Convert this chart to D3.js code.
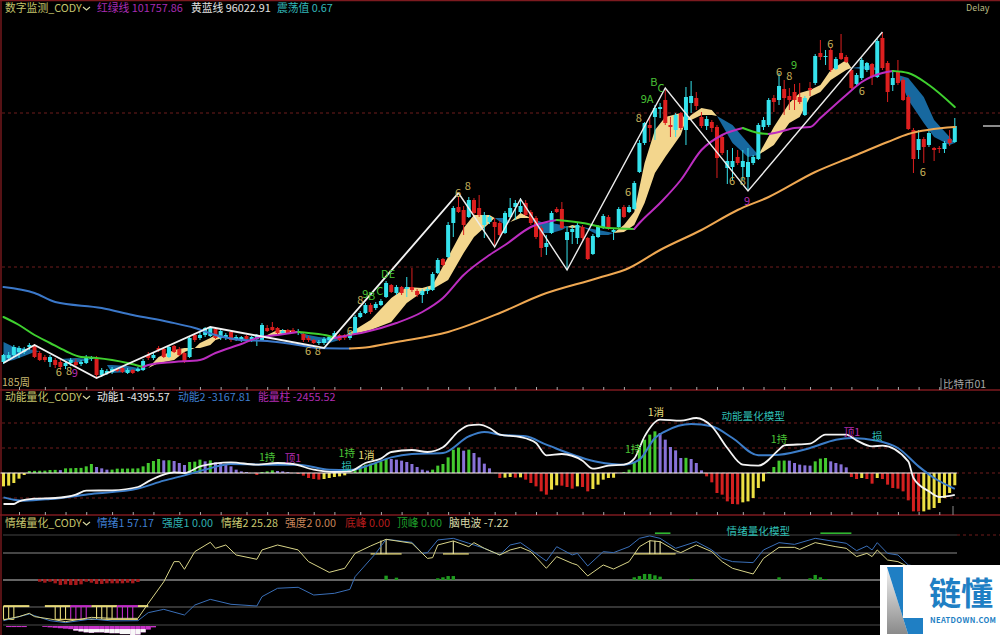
<!DOCTYPE html>
<html lang="zh">
<head>
<meta charset="utf-8">
<title>数字监测_CODY</title>
<script src="https://cdn.jsdelivr.net/npm/d3@7"></script>
<style>
  html, body { margin: 0; padding: 0; background: #000; }
  svg { display: block; }
  text { font-family: "Noto Sans CJK SC", "Noto Sans", sans-serif; }
</style>
</head>
<body>
<svg id="chart" width="1000" height="635"></svg>
<script>
// Weekly candles, in chart levels (see levelToPrice).
const candleOpen = [
  28,32,35,38,38,43,44,37,33,28, 30,28,24,27,28,26,27,31,32,15,
  17,18,21,22,17,20,19,20,35,32, 42,41,33,44,41,37,33,55,52,55,
  54,61,52,53,58,51,50,54,50,51, 50,62,63,62,57,60,60,57,56,52,
  50,47,47,50,52,55,55,52,57,73, 77,85,82,85,93,105,97,103,101,103,
  99,95,99,100,117,131,133,167,183,180, 173,190,182,165,168,168,167,157,173,183,
  178,187,178,172,162,143,157,181,181,150, 158,152,163,152,136,153,162,173,158,163,
  183,178,181,218,247,265,273,281,290,265, 260,277,260,287,292,273,264,268,263,253,
  222,223,233,223,213,227,231,263,265,292, 290,301,294,298,293,275,302,307,337,333,
  340,321,337,333,320,306,312,320,326,313, 352,327,305,318,310,293,260,240,251,245,
  242,242,241,251,248];
const candleClose = [
  35,35,43,42,41,45,33,30,30,33, 25,23,27,30,25,28,33,33,15,20,
  19,21,19,18,20,17,21,29,32,35, 40,33,43,38,35,28,52,50,55,62,
  62,52,59,55,50,53,53,51,53,55, 65,59,60,57,59,57,58,59,50,50,
  47,48,51,53,57,50,52,57,73,77, 85,78,86,89,107,98,103,97,103,100,
  95,99,101,116,130,125,165,182,178,165, 190,177,175,175,173,163,155,177,182,187,
  184,175,167,153,142,147,177,178,162,158, 161,165,152,131,154,163,174,161,160,181,
  173,183,207,247,267,262,282,283,267,263, 275,262,293,294,284,264,271,262,232,237,
  229,229,227,229,228,233,265,270,290,288, 304,292,290,290,288,292,300,334,333,334,
  320,331,331,328,302,315,330,327,313,349, 322,298,312,307,290,261,231,251,243,257,
  240,241,247,247,264];
const candleHigh = [
  36,38,45,44,43,47,46,39,35,35, 32,30,29,32,31,30,35,34,34,22,
  21,23,22,23,22,21,23,31,38,37, 44,43,45,45,43,38,54,57,58,63,
  64,62,61,57,59,55,54,55,54,56, 67,65,68,63,61,61,62,61,57,54,
  51,50,53,55,59,56,56,59,75,79, 87,87,88,91,109,106,105,104,113,122,
  101,101,103,118,132,132,168,184,193,184, 193,192,195,178,175,172,169,179,192,190,
  192,190,180,174,164,155,179,183,188,164, 164,167,165,153,156,165,176,175,162,183,
  185,185,209,250,268,273,285,287,300,273, 277,278,303,309,298,278,274,270,265,255,
  240,242,240,240,242,235,267,273,292,295, 317,310,302,306,307,294,308,336,350,340,
  342,333,356,335,322,317,332,328,327,351, 358,329,320,330,312,295,262,260,253,259,
  243,244,249,260,272];
const candleLow = [
  26,30,33,32,36,40,32,29,28,23, 22,20,21,24,23,24,26,29,13,13,
  15,16,18,17,16,16,18,19,30,30, 38,32,32,37,34,27,32,48,50,53,
  53,51,50,50,48,49,48,49,48,44, 49,58,59,56,55,56,57,55,48,48,
  46,45,45,48,51,49,50,50,56,72, 76,76,80,84,92,97,95,95,93,98,
  93,87,96,99,116,124,132,153,177,155, 172,175,173,152,166,145,154,156,172,170,
  177,174,165,151,133,135,156,177,161,120, 146,146,150,130,135,152,161,160,150,162,
  172,177,180,217,245,248,250,272,265,253, 253,260,245,277,280,262,260,258,212,235,
  206,210,225,210,200,225,230,260,263,278, 285,275,280,280,286,274,294,305,330,325,
  318,320,330,327,301,305,310,318,305,312, 320,288,299,305,289,260,217,231,227,243,
  229,237,237,244,247];

// Conversion between chart levels and quoted prices.
const pricePerLevel = 286.7475;
const priceAtLevelZero = 20608.32;
const levelToPrice = level => priceAtLevelZero + pricePerLevel * level;

// Yellow-blue long average.
const longWeeks  = [0,6,10,19,25,32,37,41,46,51,57,61,67,70,76,86,96,104,115,121,127,135,142,148,157,164,171,175,184];
const longLevels = [103,97,88,82,75,68,62,55,50,49,45,42,41.5,42.5,48,58,77,95,112,122,140,160,180,193,218,233,248,256,263];

// Red-green trend line.
const trendWeeks  = [0,3,6,9,12,15,18,21,24,27,28,33,38,41,46,49,53,57,59,63,64,67,70,76,81,85,89,94,97,102,107,112,117,122,123,127,131,135,139,143,146,148,150,153,156,158,163,166,170,172,175,179,184];
const trendLevels = [73,65,55,47,39,33,32,30,27,23,25,28,30,37,46,52,55,58,57,54,52,55,58,67,78,92,115,135,145,163,170,167,162,161,167,187,210,240,255,262,257,256,258,262,263,272,295,308,317,319,317,305,283];

// Fast and slow edges of the filled ribbon.
const ribbonWeeks = [0,2,6,7,11,14,17,20,21,24,27,28,30,33,35,37,38,40,41,43,46,48,51,53,55,57,59,61,63,65,66,71,75,78,81,83,86,89,91,94,95,97,98,100,102,104,106,108,109,110,112,115,117,118,120,122,124,126,128,131,132,133,135,137,138,141,144,146,149,152,154,156,158,160,163,164,168,169,173,175,178,180,183,184];
const ribbonFast  = [28,30,38,38.5,31,27,31,25,17,18,20,22,33,40,42,42,47,52,55,53,49,51,55,60,60,58,50,47,47,50,54,70,92,103,102,105,133,162,175,175,172,165,168,177,172,157,157,160,163,165,163,155,155,157,165,178,227,260,273,277,270,275,282,280,274,247,233,235,263,287,297,300,305,320,330,322,320,320,315,290,267,253,245,247];
const ribbonSlow  = [48,43,40,38.5,31,32,31,25,25,24,21,22,27,30,38,42,42,45,50,53,52,51,55,55,57,58,55,53,52,52,54,60,68,87,98,101,110,137,153,167,172,172,168,172,172,168,167,165,163,162,163,160,158,157,158,165,187,217,233,255,270,270,275,275,274,265,247,235,245,267,273,293,298,310,320,322,325,320,315,312,293,270,253,247];

// Swing line joining the turning points.
const swingWeeks  = [0,6,18,40,62,88,95,100,109,128,144,170];
const swingLevels = [27,45,12,63,42,197,143,191,120,302,199,358];

// Count marks written on the price pane.
const countText  = ["6","8","9","6","8","6","8","9","B","C","DE","6","8","6","8","9A","B","C","6","8","9","6","8","9","6","6","6"];
const countWeek  = [10.7,12.7,13.8,58.9,60.8,67,69,70,71.2,72.8,74.4,87.9,89.8,120.8,122.9,124.5,125.8,127.2,140.9,143,143.8,150,152,152.9,159.9,166,177.8];
const countLevel = [17,18,16,38,38,58,89,95,93,98,115,196,203,197,271,290,307,301,208,208,188,317,313,324,345,298,217];
const countKind  = ["t","t","m","t","t","t","t","g","g","g","g","t","t","t","t","g","g","g","t","t","m","t","t","g","t","t","t"];

// Month ticks along the pane separators.
const monthTicks = [3,8,12,16,21,25,29,34,38,42,47,51,55,60,64,69,73,77,82,86,90,95,99,103,107,112,116,120,125,129,134,138,143,147,151,156,160,164,169,173,177,181];

// Momentum histogram.
const energyBars = [
  -2670,-2530,-2000,-1130,-400,400,430,450,470,600, 620,580,930,950,1000,1020,1330,1800,1200,930,
  670,680,870,880,890,900,930,1330,2000,2400, 2800,2530,2550,2400,2000,1600,2200,2270,2670,2330,
  2530,2130,2000,1670,1330,670,330,200,0,-400, 200,330,530,400,330,200,0,-200,-530,-1000,
  -1200,-1330,-1200,-1000,-800,-670,-470,130,670,1330, 1670,1870,2000,2330,2830,2800,2670,2470,2200,1800,
  1200,670,470,670,1470,1800,3130,4670,5070,4470, 4670,4000,3130,1870,930,0,-1000,-930,-800,-930,
  -870,-1330,-2000,-2670,-3670,-4330,-3330,-2470,-2530,-2800, -3130,-2670,-2800,-3670,-3200,-2330,-1330,-1000,-950,0,
  200,670,2000,5000,6670,7670,8330,8000,6670,5200, 4530,3000,3030,2800,2000,530,-670,-1870,-4000,-4330,
  -5670,-6200,-6270,-5870,-5670,-5000,-3000,-1670,200,1200, 2470,2490,2470,2000,1670,1530,1470,2330,2870,3000,
  2330,2000,1730,1130,-800,-1200,-1000,-1200,-2130,-1000, -1200,-2330,-3000,-3130,-3670,-5470,-7670,-7700,-7670,-7330,
  -7000,-6000,-5000,-4000,-2455.52];

// Momentum lines.
const momentum1Weeks  = [0,2,3,6,10,14,16,21,26,28,31,33,35,38,41,44,49,53,56,60,64,67,70,73,75,79,82,85,88,90,92,94,96,100,103,105,108,112,114,117,120,122,124,127,131,134,137,140,143,146,150,151,156,159,163,165,168,170,175,176,179,181,184];
const momentum1Values = [-6200,-6200,-5670,-5130,-5000,-4330,-3530,-3470,-2800,-1670,-330,130,0,1330,1930,2130,1670,2000,1800,670,200,330,2000,2870,4200,4600,4200,5130,8330,9530,9670,9000,7670,7200,6000,3530,3800,2470,870,1470,1670,2870,7330,10670,10470,11000,9330,5000,1670,1470,4670,5530,5870,7670,7670,6530,5330,5470,2330,-1000,-3670,-4800,-4395.57];
const momentum2Weeks  = [0,2,4,9,17,26,31,35,39,44,51,57,63,67,71,75,79,85,90,93,96,101,105,115,120,123,126,128,133,137,141,146,150,156,161,164,169,173,177,180,184];
const momentum2Values = [-4870,-5330,-5530,-5200,-4200,-3130,-1530,-470,670,1800,1670,1670,670,600,1670,3130,3800,4000,7330,8200,7670,7330,5670,2200,1670,2670,7000,8330,9800,9330,7000,3530,3670,5000,6670,7000,6470,5000,1330,-1000,-3167.81];
const momentumGrid = [10000,5000,-5000];

// Signal words on the momentum pane.
const signalText  = ["1持","顶1","1持","损","1消","1持","1消","1持","顶1","损","动能量化模型"];
const signalWeek  = [51,56,66.4,66.4,70.2,121.8,126.2,150,164.1,169,145];
const signalValue = [3000,2800,3800,1200,3400,4600,12000,6600,8000,7200,11200];
const signalKind  = ["g","m","g","c","y","g","y","g","m","c","c"];

// Mood lines.
const mood2Weeks  = [0,1,3,5,6,9,12,17,21,26,28,31,33,34,35,37,40,41,43,45,49,50,53,57,59,63,66,68,71,74,79,82,83,84,87,90,91,93,96,98,100,102,105,107,110,111,113,116,118,121,123,125,127,130,131,134,137,139,141,145,147,150,153,154,157,161,163,165,167,168,169,171,173,175,180,184];
const mood2Values = [5.6,7,9.3,13,9.3,6.7,3.7,8.5,7.4,7.4,24,48,70.4,70.4,61.9,81.5,91.9,85.2,88.9,77.8,73,83.4,88.9,83.4,70.4,58.5,63,79.6,87.8,95.2,90.8,74,74.8,88.9,93.4,87,91.5,85.2,77.8,83.4,86.3,81.5,63,76,68.5,66.7,54.5,66.7,62.2,70.4,87,93.7,92.6,82.6,80.4,88.9,81.5,70.4,63,56.7,74,86.3,86.3,84,91.5,87,85.2,76,79.6,76,83.4,72.2,70.4,64.8,45,25.28];
const mood1Weeks  = [0,5,9,12,17,21,26,28,31,35,37,40,44,49,50,53,57,60,64,67,68,72,74,79,81,82,84,87,90,93,96,98,100,102,105,107,110,111,113,116,118,121,123,125,127,130,134,137,139,141,145,147,150,153,157,163,165,167,168,169,171,173,175,180,184];
const mood1Values = [4.8,12.2,4.8,2.6,6.7,4.5,4.8,13.7,17.4,11.1,22.2,28.5,23,21.1,31.5,40.8,41.9,33.3,35.2,39.6,53.7,79.6,95.2,91.9,79.6,80.4,94.5,96.3,90.8,85.2,77.8,88.9,91.5,83.4,71.1,87,77.8,79.6,65.6,81.5,80.4,87,96.3,99,96.3,85.2,92.6,83.4,74,70.4,69.3,83.4,91.5,89.6,96.3,90.8,82.6,87.8,83.4,91.5,79.6,77.8,66.7,62,57.17];
const moodGrid = [100,80,50,20,0];

// Bottom peaks: hanging blocks on the 50 line.
const troughWeeks  = [7,8,9,10,11,12,13,14,15,16,17,18,19,20,21,22,23,24,25,26];
const troughHeight = [1.9,3,1.9,3.7,5.6,4.8,5.6,5.6,4.8,1.9,3,4.4,4.4,3.7,3.7,3.7,3.7,3,3.7,2.2];
// Top peaks: standing blocks on the 50 line.
const crestWeeks  = [74,76,84,85,86,87,122,123,124,125,126,127,133,150,156,157,158,159];
const crestHeight = [4.8,2.6,1.9,3,4.4,4.4,3,4.4,6.7,6.7,5.2,3.7,1.1,3,1.9,5.6,3,1.1];

// Low-mood combs and their caps.
const capStart = [0,8,13,17,22,26];
const capEnd   = [5,13,17,22,26,28];
const capKind  = ["y","y","m","y","m","y"];
const combWeeks = [0,1,2,10,11,12,13,14,15,16,18,19,20,21,22,23,24,25];
const combKind  = ["y","y","y","y","y","y","m","m","m","m","y","y","y","y","m","m","m","m"];
const combBaseStart = [0,10];
const combBaseEnd   = [2,26];

// High-mood stems and their bases.
const stemWeeks = [73,74,87,125,126,127];
const stemTops  = [94,95.2,93.4,93.7,93.6,93];
const stemBaseStart = [71,85,122];
const stemBaseEnd   = [77,90,130];

// Short alert dashes above the 100 line.
const alertStart = [126,158];
const alertEnd   = [129,164];

// Depth below the zero line.
const dipWeeks  = [1,2,3,4,8,9,10,11,12,13,14,15,16,17,18,19,20,21,22,23,24,25,26,27,28,29];
const dipMagenta = [-1.2,-1.2,-1.2,-1.2,-1,-1.5,-2,-2.5,-3,-3.5,-5,-6,-7,-7.5,-7,-7,-7.5,-8,-8,-9,-9,-10,-9.5,-7,-4,-1.5];
const dipWhiteWeeks = [14,15,16,17,18,19,20,21,22,23,24,25,26,27];

const palette = {
  t: "#c9b45c", g: "#49c236", m: "#b52cb0", y: "#e6dc7a", c: "#2fbfb3"
};
const capColour = { y: "#e6d97a", m: "#c02cc6" };

const svg = d3.select("#chart");
const x = d3.scaleLinear().domain([0, 184]).range([3.5, 954.8]);
const yPrice = d3.scaleLinear().domain([0, 390]).range([390, 0]);
const yMomentum = d3.scaleLinear().domain([-5000, 10000]).range([498, 423]);
const yMood = d3.scaleLinear().domain([0, 100]).range([625, 535]);

const lastOf = a => a[a.length - 1];
const fix2 = v => v.toFixed(2);

// Frame, separators and dashed reference lines
const frame = svg.append("g");
frame.append("rect").attr("width", 1000).attr("height", 635).attr("fill", "#000");
frame.selectAll("line.edge")
  .data([[1, 0, 1, 635], [0, 0.5, 1000, 0.5], [0, 390, 1000, 390], [0, 515, 1000, 515]])
  .join("line")
  .attr("x1", d => d[0]).attr("y1", d => d[1]).attr("x2", d => d[2]).attr("y2", d => d[3])
  .attr("stroke", "#7c1a1f").attr("stroke-width", 1.4);

const dash = (yValue, colour = "#6e1c1c") => frame.append("line")
  .attr("x1", 2).attr("x2", 1000).attr("y1", yValue).attr("y2", yValue)
  .attr("stroke", colour).attr("stroke-dasharray", "3 3");

[277, 123].forEach(level => dash(yPrice(level)));
momentumGrid.forEach(v => dash(yMomentum(v)));
dash(yMomentum(0));
frame.append("line").attr("x1", 957).attr("x2", 1000)
  .attr("y1", yMood(100)).attr("y2", yMood(100))
  .attr("stroke", "#6e1c1c").attr("stroke-dasharray", "3 3");

// Month ticks sit on both separators
[390, 515].forEach(yPos => {
  const axis = d3.axisTop(x).tickValues(monthTicks).tickSize(3).tickFormat("");
  const g = svg.append("g").attr("transform", `translate(0,${yPos})`).call(axis);
  g.select(".domain").remove();
  g.selectAll("line").attr("stroke", "#a8a8a8");
});

// Ribbon between the fast and slow edges, split by which one leads
const ribbonArea = d3.area()
  .x(d => x(d.week)).y0(d => yPrice(d.fast)).y1(d => yPrice(d.slow));
const ribbonRuns = [];
ribbonWeeks.forEach((week, i) => {
  if (i === 0) return;
  const lead = (ribbonFast[i] - ribbonSlow[i]) + (ribbonFast[i - 1] - ribbonSlow[i - 1]);
  if (lead === 0) return;
  const kind = lead > 0 ? "up" : "down";
  const prev = { week: ribbonWeeks[i - 1], fast: ribbonFast[i - 1], slow: ribbonSlow[i - 1] };
  const cur = { week, fast: ribbonFast[i], slow: ribbonSlow[i] };
  const run = ribbonRuns[ribbonRuns.length - 1];
  if (run && run.kind === kind && run.points[run.points.length - 1].week === prev.week) run.points.push(cur);
  else ribbonRuns.push({ kind, points: [prev, cur] });
});
svg.append("g").selectAll("path").data(ribbonRuns).join("path")
  .attr("d", d => ribbonArea(d.points))
  .attr("fill", d => d.kind === "up" ? "#f3d68d" : "#17689f");

// Candles: cyan for a rising week, red for a falling one
const candles = d3.range(candleOpen.length).map(i => ({
  week: i, open: candleOpen[i], close: candleClose[i], high: candleHigh[i], low: candleLow[i]
}));
const candleColour = d => d.close >= d.open ? "#35e2ec" : "#dc1f1f";
const candleG = svg.append("g");
candleG.selectAll("line").data(candles).join("line")
  .attr("x1", d => x(d.week)).attr("x2", d => x(d.week))
  .attr("y1", d => yPrice(d.high)).attr("y2", d => yPrice(d.low))
  .attr("stroke", candleColour).attr("stroke-width", 1);
candleG.selectAll("rect").data(candles).join("rect")
  .attr("x", d => x(d.week) - 2)
  .attr("width", 4)
  .attr("y", d => yPrice(Math.max(d.open, d.close)))
  .attr("height", d => Math.max(1, Math.abs(yPrice(d.open) - yPrice(d.close))))
  .attr("fill", candleColour);

// Lines coloured by direction: each stretch takes the colour of its slope
function slopeRuns(weeks, values) {
  const runs = [];
  weeks.forEach((week, i) => {
    if (i === 0) return;
    const rising = values[i] >= values[i - 1];
    const run = runs[runs.length - 1];
    if (run && run.rising === rising) run.points.push([week, values[i]]);
    else runs.push({ rising, points: [[weeks[i - 1], values[i - 1]], [week, values[i]]] });
  });
  return runs;
}
const priceLine = d3.line().x(d => x(d[0])).y(d => yPrice(d[1]));
const smoothPriceLine = d3.line().x(d => x(d[0])).y(d => yPrice(d[1])).curve(d3.curveMonotoneX);
const drawSlopeLine = (weeks, values, upColour, downColour) =>
  svg.append("g").selectAll("path").data(slopeRuns(weeks, values)).join("path")
    .attr("d", d => smoothPriceLine(d.points))
    .attr("fill", "none")
    .attr("stroke", d => d.rising ? upColour : downColour)
    .attr("stroke-width", 2)
    .attr("stroke-linecap", "round")
    .attr("stroke-linejoin", "round");

drawSlopeLine(longWeeks, longLevels, "#efa852", "#3b78c9");
drawSlopeLine(trendWeeks, trendLevels, "#bc2dc0", "#3fd02f");

// Swing line: heavier through the earlier legs
const swingPoints = swingWeeks.map((w, i) => [w, swingLevels[i]]);
svg.append("path").attr("d", priceLine(swingPoints.slice(0, 6)))
  .attr("fill", "none").attr("stroke", "#f2f2f2").attr("stroke-width", 1.9);
svg.append("path").attr("d", priceLine(swingPoints.slice(5)))
  .attr("fill", "none").attr("stroke", "#ececec").attr("stroke-width", 1.4);

// Count marks
svg.append("g").selectAll("text").data(countText).join("text")
  .attr("x", (d, i) => x(countWeek[i]))
  .attr("y", (d, i) => yPrice(countLevel[i]))
  .attr("text-anchor", "middle").attr("dominant-baseline", "middle")
  .attr("font-size", 11)
  .attr("fill", (d, i) => palette[countKind[i]])
  .text(d => d);

// Last price marker, pane tags
svg.append("line").attr("x1", 983).attr("x2", 1000)
  .attr("y1", yPrice(lastOf(longLevels)) - 1).attr("y2", yPrice(lastOf(longLevels)) - 1)
  .attr("stroke", "#c8c8c8").attr("stroke-width", 1.4);
svg.append("text").attr("x", 2).attr("y", 386).attr("font-size", 10.5).attr("fill", "#c9b870").text("185周");
svg.append("text").attr("x", 943).attr("y", 388).attr("font-size", 10.5).attr("fill", "#a8a8a8").text("比特币01");
svg.append("line").attr("x1", 941).attr("x2", 941).attr("y1", 378).attr("y2", 390).attr("stroke", "#8a8a8a");
svg.append("text").attr("x", 966).attr("y", 11).attr("font-size", 9)
  .attr("font-family", "DejaVu Sans Mono").attr("fill", "#b8b880").text("Delay");

// Pane headings
const heading = (yPos, items) => {
  const g = svg.append("g");
  g.selectAll("text").data(items).join("text")
    .attr("x", d => d.at).attr("y", yPos)
    .attr("font-size", 10.8)
    .attr("fill", d => d.colour)
    .text(d => d.label);
  g.append("polyline")
    .attr("points", `83,${yPos - 5} 86.5,${yPos - 2} 90,${yPos - 5}`)
    .attr("fill", "none").attr("stroke", "#d8d8a0").attr("stroke-width", 1.1);
};
const headTan = "#c4c46c";
heading(12, [
  { at: 5, colour: headTan, label: "数字监测_CODY" },
  { at: 97, colour: "#a92cb2", label: `红绿线 ${fix2(levelToPrice(lastOf(trendLevels)))}` },
  { at: 191, colour: "#e2e2e2", label: `黄蓝线 ${fix2(levelToPrice(lastOf(longLevels)))}` },
  { at: 277, colour: "#33b8ba", label: "震荡值 0.67" }
]);
heading(401, [
  { at: 5, colour: headTan, label: "动能量化_CODY" },
  { at: 97, colour: "#e6e6e6", label: `动能1 ${fix2(lastOf(momentum1Values))}` },
  { at: 178, colour: "#3f7fd0", label: `动能2 ${fix2(lastOf(momentum2Values))}` },
  { at: 258, colour: "#b22cb2", label: `能量柱 ${fix2(lastOf(energyBars))}` }
]);
heading(527, [
  { at: 5, colour: headTan, label: "情绪量化_CODY" },
  { at: 97, colour: "#3f7fd0", label: `情绪1 ${fix2(lastOf(mood1Values))}` },
  { at: 162, colour: "#2fb0b0", label: "强度1 0.00" },
  { at: 221, colour: "#c8c870", label: `情绪2 ${fix2(lastOf(mood2Values))}` },
  { at: 285, colour: "#c8855a", label: "强度2 0.00" },
  { at: 345, colour: "#b81d1d", label: "底峰 0.00" },
  { at: 397, colour: "#1f9d2a", label: "顶峰 0.00" },
  { at: 449, colour: "#d8d8a8", label: "脑电波 -7.22" }
]);

// Momentum histogram: direction against the previous week picks the colour
const barColour = (v, i) => {
  const prev = i > 0 ? energyBars[i - 1] : v;
  if (v >= 0) return v > prev ? "#44c92f" : "#8872d8";
  return v < prev ? "#d4201f" : "#ecdf43";
};
svg.append("g").selectAll("rect").data(energyBars).join("rect")
  .attr("x", (v, i) => x(i) - 1.5)
  .attr("width", 3)
  .attr("y", v => Math.min(yMomentum(v), yMomentum(0)))
  .attr("height", v => Math.abs(yMomentum(v) - yMomentum(0)))
  .attr("fill", barColour);
svg.append("line").attr("x1", x(0) - 3).attr("x2", x(184) + 2)
  .attr("y1", yMomentum(0)).attr("y2", yMomentum(0))
  .attr("stroke", "#f0f0f0").attr("stroke-width", 1.2);

const momentumLine = d3.line().x(d => x(d[0])).y(d => yMomentum(d[1])).curve(d3.curveMonotoneX);
svg.append("path")
  .attr("d", momentumLine(momentum2Weeks.map((w, i) => [w, momentum2Values[i]])))
  .attr("fill", "none").attr("stroke", "#3c7dc8").attr("stroke-width", 2);
svg.append("path")
  .attr("d", momentumLine(momentum1Weeks.map((w, i) => [w, momentum1Values[i]])))
  .attr("fill", "none").attr("stroke", "#f4f4f4").attr("stroke-width", 1.8);

svg.append("g").selectAll("text").data(signalText).join("text")
  .attr("x", (d, i) => x(signalWeek[i]))
  .attr("y", (d, i) => yMomentum(signalValue[i]))
  .attr("text-anchor", "middle").attr("dominant-baseline", "middle")
  .attr("font-size", 10.6)
  .attr("fill", (d, i) => palette[signalKind[i]])
  .text(d => d);
svg.append("line").attr("x1", 953).attr("x2", 953).attr("y1", 506).attr("y2", 515).attr("stroke", "#8a8a8a");

// Mood pane guides
const moodGuide = { 100: "#444", 80: "#8a8a8a", 50: "#c8c8c8", 20: "#6a6a6a", 0: "#4a4a4a" };
svg.append("g").selectAll("line").data(moodGrid).join("line")
  .attr("x1", 3).attr("x2", 957)
  .attr("y1", v => yMood(v)).attr("y2", v => yMood(v))
  .attr("stroke", v => moodGuide[v]);

// Depth below zero: magenta with a white core
const dipG = svg.append("g");
dipG.selectAll("rect").data(dipWeeks).join("rect")
  .attr("x", w => x(w) - 2.6).attr("width", 5.2)
  .attr("y", yMood(0) + 1)
  .attr("height", (w, i) => yMood(dipMagenta[i]) - yMood(0))
  .attr("fill", "#c832c8");
const dipWhite = svg.append("g");
dipWhite.selectAll("rect").data(dipWhiteWeeks).join("rect")
  .attr("x", w => x(w) - 2.6).attr("width", 5.2)
  .attr("y", yMood(-4.5))
  .attr("height", w => yMood(dipMagenta[dipWeeks.indexOf(w)]) - yMood(-4.5) + 1)
  .attr("fill", "#f8f8f8");

// Blocks on the 50 line
svg.append("g").selectAll("rect").data(troughWeeks).join("rect")
  .attr("x", w => x(w) - 1.7).attr("width", 3.4)
  .attr("y", yMood(50) - 1)
  .attr("height", (w, i) => yMood(50 - troughHeight[i]) - yMood(50) + 1)
  .attr("fill", "#a81a1c");
svg.append("g").selectAll("rect").data(crestWeeks).join("rect")
  .attr("x", w => x(w) - 1.7).attr("width", 3.4)
  .attr("y", (w, i) => yMood(50 + crestHeight[i]))
  .attr("height", (w, i) => yMood(50) - yMood(50 + crestHeight[i]))
  .attr("fill", "#1f9a1f");

// Combs at low mood
const capLevel = 21, combLevel = 6.2;
svg.append("g").selectAll("line").data(capStart).join("line")
  .attr("x1", w => x(w)).attr("x2", (w, i) => x(capEnd[i]))
  .attr("y1", yMood(capLevel)).attr("y2", yMood(capLevel))
  .attr("stroke", (w, i) => capColour[capKind[i]]).attr("stroke-width", 2);
svg.append("g").selectAll("line").data(combWeeks).join("line")
  .attr("x1", w => x(w)).attr("x2", w => x(w))
  .attr("y1", yMood(capLevel)).attr("y2", yMood(combLevel))
  .attr("stroke", (w, i) => capColour[combKind[i]]).attr("stroke-width", 1.1);
svg.append("g").selectAll("line").data(combBaseStart).join("line")
  .attr("x1", w => x(w)).attr("x2", (w, i) => x(combBaseEnd[i]))
  .attr("y1", yMood(combLevel)).attr("y2", yMood(combLevel))
  .attr("stroke", "#d8c868").attr("stroke-width", 1.2);

// Stems at high mood
svg.append("g").selectAll("line").data(stemBaseStart).join("line")
  .attr("x1", w => x(w)).attr("x2", (w, i) => x(stemBaseEnd[i]))
  .attr("y1", yMood(79)).attr("y2", yMood(79))
  .attr("stroke", "#e6d97a").attr("stroke-width", 1.3);
svg.append("g").selectAll("line").data(stemWeeks).join("line")
  .attr("x1", w => x(w)).attr("x2", w => x(w))
  .attr("y1", (w, i) => yMood(stemTops[i])).attr("y2", yMood(79))
  .attr("stroke", "#ece6a8").attr("stroke-width", 1.1);

// Alert dashes
svg.append("g").selectAll("line").data(alertStart).join("line")
  .attr("x1", w => x(w)).attr("x2", (w, i) => x(alertEnd[i]))
  .attr("y1", yMood(102)).attr("y2", yMood(102))
  .attr("stroke", "#2fb52f").attr("stroke-width", 1.6);

// Mood lines
const moodLine = d3.line().x(d => x(d[0])).y(d => yMood(d[1]));
svg.append("path")
  .attr("d", moodLine(mood1Weeks.map((w, i) => [w, mood1Values[i]])))
  .attr("fill", "none").attr("stroke", "#3a6fb8").attr("stroke-width", 1);
svg.append("path")
  .attr("d", moodLine(mood2Weeks.map((w, i) => [w, mood2Values[i]])))
  .attr("fill", "none").attr("stroke", "#d8d488").attr("stroke-width", 1);

svg.append("text").attr("x", x(146)).attr("y", yMood(103))
  .attr("text-anchor", "middle").attr("dominant-baseline", "middle")
  .attr("font-size", 10.6).attr("fill", palette.c).text("情绪量化模型");

// Site badge in the corner
const badge = svg.append("g");
badge.append("rect").attr("x", 880).attr("y", 565).attr("width", 120).attr("height", 70).attr("fill", "#fff");
const defs = svg.append("defs");
const grad = defs.append("linearGradient").attr("id", "badgeGrey")
  .attr("x1", 0).attr("y1", 0).attr("x2", 0).attr("y2", 1);
grad.append("stop").attr("offset", "0%").attr("stop-color", "#f2f2f2");
grad.append("stop").attr("offset", "100%").attr("stop-color", "#8a8a8a");
badge.append("polygon").attr("points", "887,567 908,634 887,634").attr("fill", "url(#badgeGrey)");
badge.append("polygon").attr("points", "887,567 903,567 903,618 923,618 923,634 908,634").attr("fill", "#1f7fc4");
badge.append("text").attr("x", 929).attr("y", 604.5).attr("font-size", 32).attr("font-weight", 700)
  .attr("fill", "#1f7fc4").text("链懂");
badge.append("text").attr("x", 930).attr("y", 623).attr("font-size", 7.5)
  .attr("textLength", 66).attr("lengthAdjust", "spacing")
  .attr("font-family", "Liberation Sans").attr("font-weight", 700).attr("fill", "#1f7fc4").text("NEATDOWN.COM");
</script>
</body>
</html>
